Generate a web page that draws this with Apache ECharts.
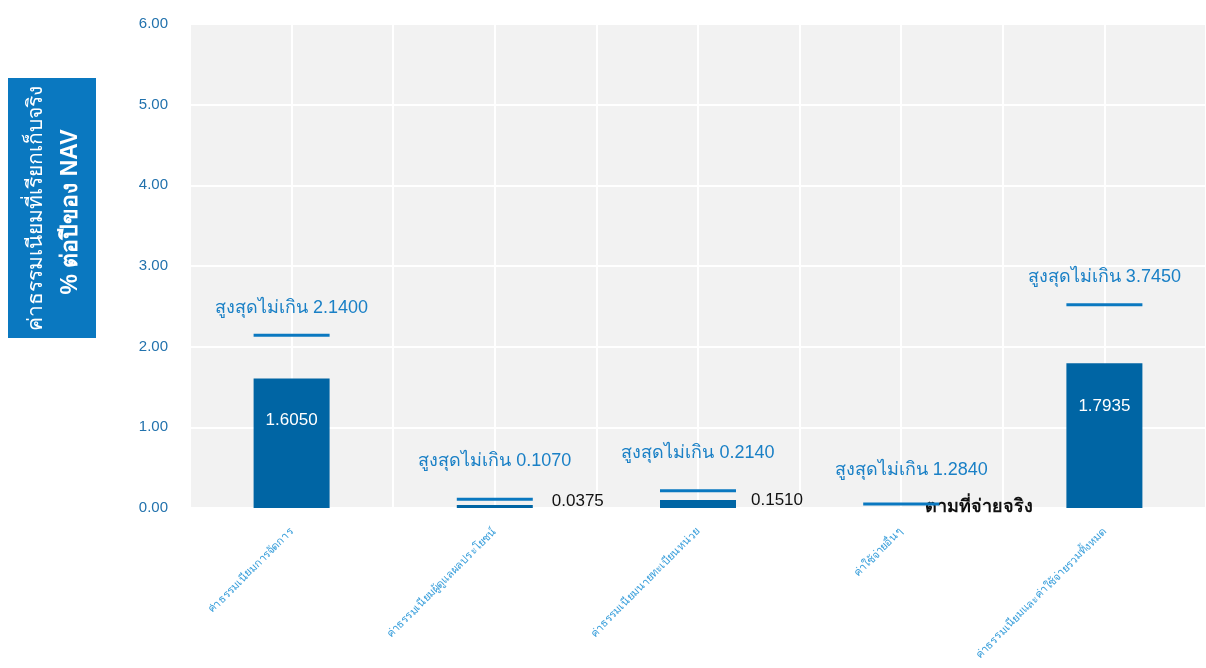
<!DOCTYPE html>
<html>
<head>
<meta charset="utf-8">
<script src="https://cdn.jsdelivr.net/npm/echarts@6/dist/echarts.min.js"></script>
<style>
html,body{margin:0;padding:0;background:#fff;}
#main{width:1206px;height:668px;}
</style>
</head>
<body>
<div id="main"></div>
<script>
const categories = [
  'ค่าธรรมเนียมการจัดการ',
  'ค่าธรรมเนียมผู้ดูแลผลประโยชน์',
  'ค่าธรรมเนียมนายทะเบียนหน่วย',
  'ค่าใช้จ่ายอื่นๆ',
  'ค่าธรรมเนียมและค่าใช้จ่ายรวมทั้งหมด'
];
const actualValues = [1.6050, 0.0375, 0.10, 0, 1.7935];
const actualLabels = ['1.6050', '0.0375', '0.1510', 'ตามที่จ่ายจริง', '1.7935'];
const maxLineValues = [2.14, 0.107, 0.214, 0.05, 2.52];
const maxLabels = ['สูงสุดไม่เกิน 2.1400', 'สูงสุดไม่เกิน 0.1070', 'สูงสุดไม่เกิน 0.2140', 'สูงสุดไม่เกิน 1.2840', 'สูงสุดไม่เกิน 3.7450'];
const yTicks = [0, 1, 2, 3, 4, 5, 6];

const FONT = "'Liberation Sans', Arial, sans-serif";
const barColor = '#0065a4';
const lineColor = '#0a78c0';

// style-only settings
const maxLabelGap = [17, 28, 27, 23, 17];
const maxLabelShift = [0, 0, 0, 10, 0];
const barLabelStyle = [
  {position: 'insideTop', distance: 33, color: '#fff', fontSize: 17, offset: [0, 0]},
  {position: 'right', color: '#111', fontSize: 17, offset: [14, -5]},
  {position: 'right', color: '#111', fontSize: 17, offset: [10, -4]},
  {position: 'right', color: '#111', fontSize: 18, fontWeight: 'bold', offset: [-19, -1]},
  {position: 'insideTop', distance: 34, color: '#fff', fontSize: 17, offset: [0, 0]}
];

const chart = echarts.init(document.getElementById('main'));
chart.setOption({
  animation: false,
  grid: {
    left: 190, right: 0, top: 24, bottom: 160,
    show: true, backgroundColor: '#f2f2f2', borderWidth: 0, containLabel: false
  },
  xAxis: [{
    type: 'category',
    data: categories,
    axisLine: {show: false},
    axisTick: {show: false},
    splitLine: {show: false},
    axisLabel: {
      rotate: 45, fontSize: 11, color: '#3a9fdb', margin: 22,
      fontFamily: FONT, interval: 0
    }
  }, {
    type: 'value',
    position: 'bottom',
    min: 0, max: categories.length * 2, interval: 1,
    axisLine: {show: false},
    axisTick: {show: false},
    axisLabel: {show: false},
    splitLine: {show: true, lineStyle: {color: '#ffffff', width: 2}}
  }],
  yAxis: {
    type: 'value',
    min: yTicks[0], max: yTicks[yTicks.length - 1], interval: 1,
    axisLine: {show: false},
    axisTick: {show: false},
    splitLine: {show: true, lineStyle: {color: '#ffffff', width: 2}},
    axisLabel: {
      formatter: v => v.toFixed(2), color: '#2272ad', fontSize: 15,
      margin: 22, fontFamily: FONT
    }
  },
  series: [{
    type: 'bar',
    xAxisIndex: 0,
    barWidth: 76,
    z: 3,
    itemStyle: {color: barColor},
    data: actualValues.map((v, i) => ({
      value: v,
      label: Object.assign({
        show: true,
        fontFamily: FONT,
        formatter: actualLabels[i]
      }, barLabelStyle[i])
    }))
  }, {
    type: 'scatter',
    xAxisIndex: 0,
    symbol: 'rect',
    symbolSize: [76, 3],
    z: 4,
    itemStyle: {color: lineColor, opacity: 1},
    data: maxLineValues.map((v, i) => ({
      value: v,
      label: {
        show: true,
        position: 'top',
        distance: maxLabelGap[i],
        offset: [maxLabelShift[i], 0],
        formatter: maxLabels[i],
        color: '#1a80c6',
        fontSize: 18,
        fontFamily: FONT
      }
    }))
  }],
  graphic: [{
    type: 'rect',
    shape: {x: 8, y: 78, width: 88, height: 260},
    style: {fill: '#0a78c0'}
  }, {
    type: 'text',
    x: 36, y: 208,
    rotation: Math.PI / 2,
    style: {
      text: 'ค่าธรรมเนียมที่เรียกเก็บจริง',
      fill: '#fff', font: "21px 'Liberation Sans', Arial, sans-serif",
      align: 'center', verticalAlign: 'middle'
    }
  }, {
    type: 'text',
    x: 71, y: 212,
    rotation: Math.PI / 2,
    style: {
      text: '% ต่อปีของ NAV',
      fill: '#fff', font: "bold 23px 'Liberation Sans', Arial, sans-serif",
      align: 'center', verticalAlign: 'middle'
    }
  }]
});
</script>
</body>
</html>
